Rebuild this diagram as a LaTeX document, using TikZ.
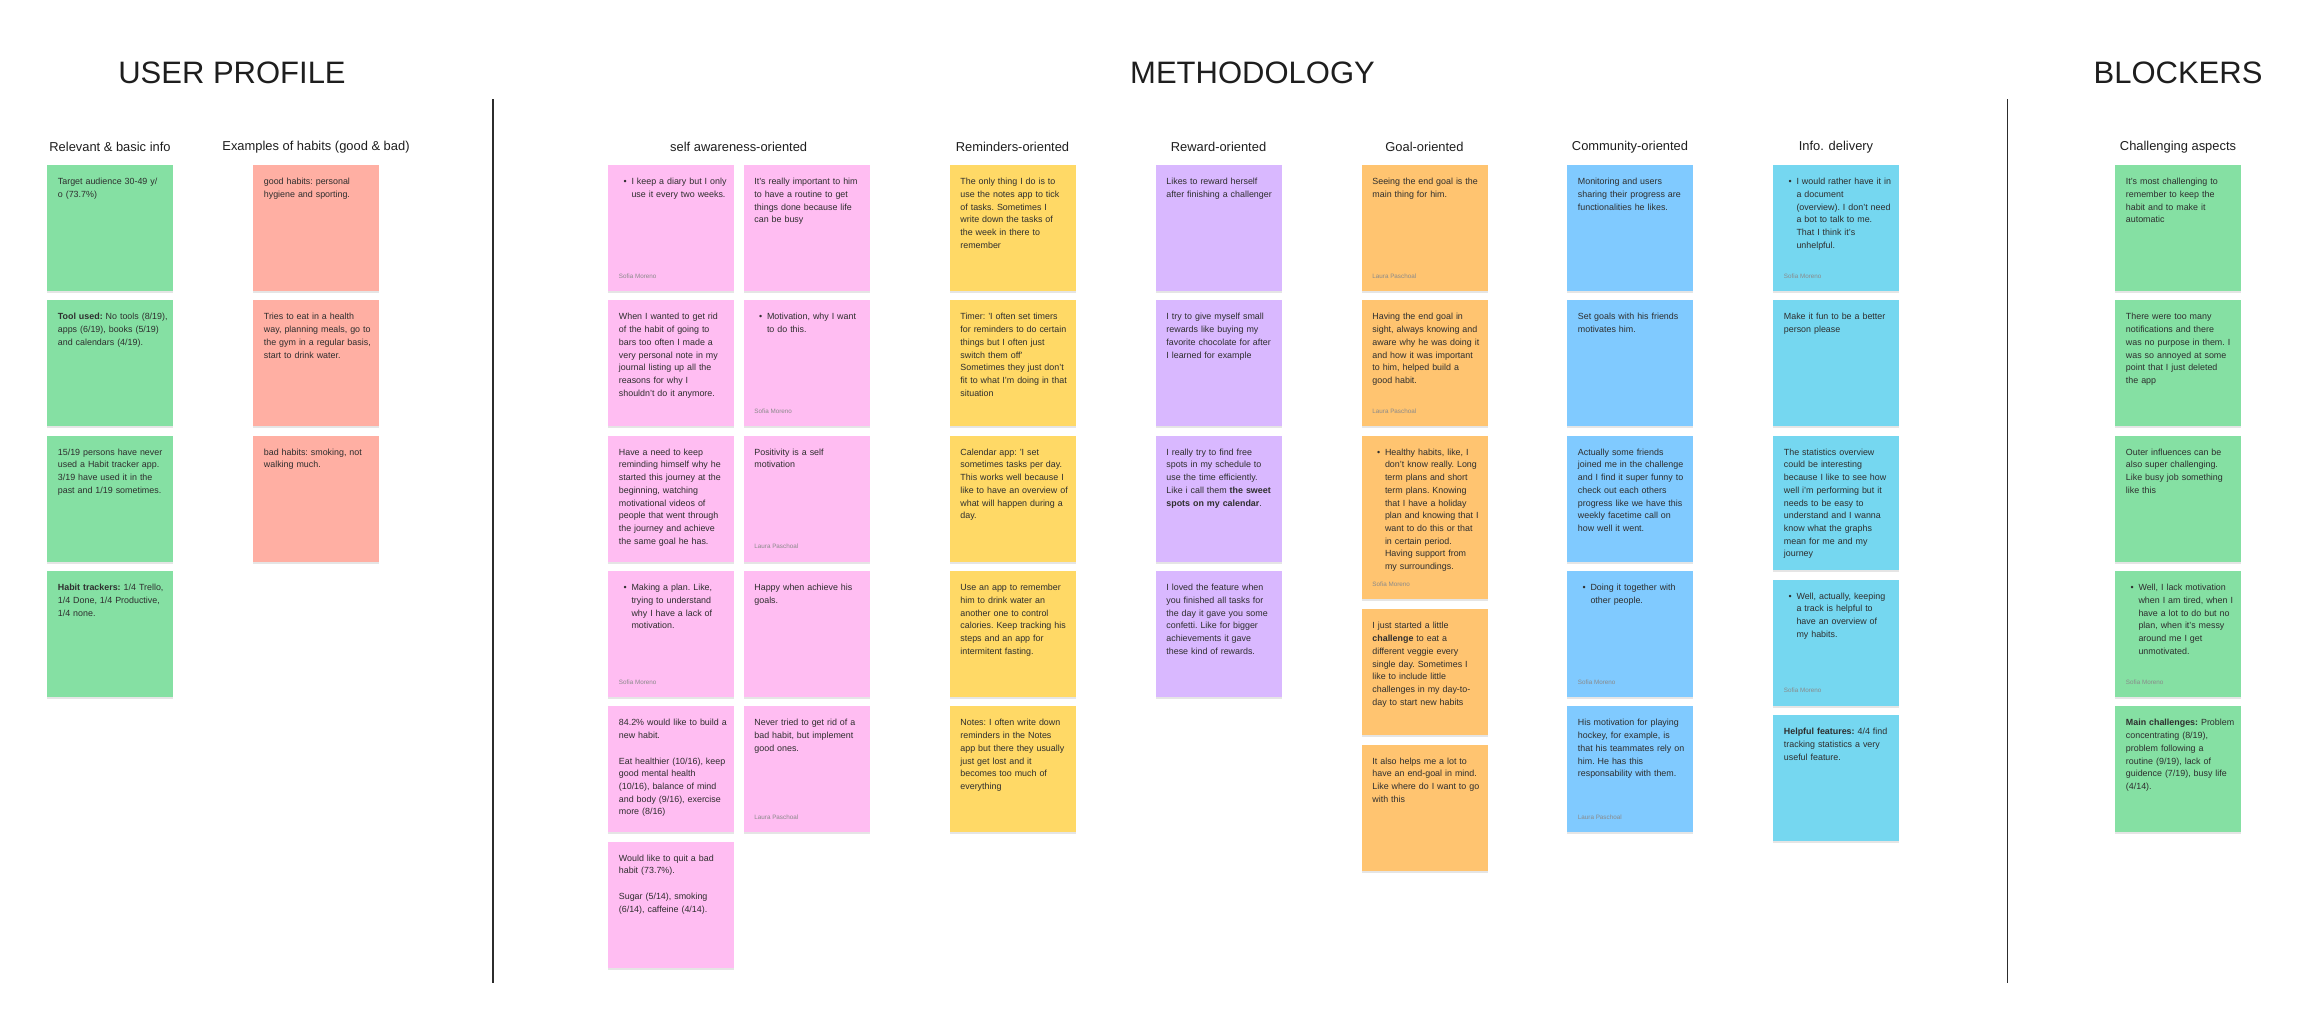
\documentclass[tikz,border=0pt]{standalone}
\usepackage{fontspec}
\setmainfont{Liberation Sans}
\usepackage{tikz}
\usetikzlibrary{shadows}

\newcommand{\notefont}{\fontsize{8.9pt}{12.7pt}\selectfont}
\newcommand{\notesetup}{\rightskip=0pt plus 1fil minus 20pt\relax\frenchspacing\hyphenpenalty=10000\relax}
\newcommand{\notebullet}{\leftskip=12.6pt\relax\leavevmode\llap{\textbullet\hspace{4.8pt}}}

\tikzset{
  sticky/.style={anchor=north west, inner xsep=10.7pt, inner ysep=0pt,
    text width=104.6pt, text height=19.7pt, text depth=106.3pt,
    font=\notefont, text=ctext, execute at begin node={\notesetup},
    drop shadow={shadow xshift=0pt, shadow yshift=-2pt, opacity=0.1, fill=black}},
  byline/.style={anchor=west, inner sep=0pt, font=\fontsize{6.3pt}{7pt}\selectfont, text=cby},
  colhead/.style={inner sep=0pt, font=\fontsize{12.9pt}{15pt}\selectfont, text=chead},
  bigtitle/.style={inner sep=0pt, font=\fontsize{31pt}{36pt}\selectfont, text=chead},
  divider/.style={draw=cdiv, line width=1.3pt}
}

\begin{document}
\begin{tikzpicture}[x=1pt,y=-1pt]
%
\useasboundingbox (0,0) rectangle (2308,1033);
%
\definecolor{ctext}{HTML}{2E2E2E}
\definecolor{chead}{HTML}{1E1E1E}
\definecolor{cby}{HTML}{8A8A8A}
\definecolor{cdiv}{HTML}{2C2C2C}
\definecolor{cgreen}{HTML}{85E0A3}
\definecolor{cred}{HTML}{FFAFA3}
\definecolor{cpink}{HTML}{FFBDF2}
\definecolor{cyellow}{HTML}{FFD966}
\definecolor{cviolet}{HTML}{D9B8FF}
\definecolor{corange}{HTML}{FFC470}
\definecolor{cblue}{HTML}{80CAFF}
\definecolor{cteal}{HTML}{75D7F0}
%
\node[bigtitle] (tUP) at (232,72.8) {USER PROFILE};
\node[bigtitle] (tME) at (1252.5,72.8) {METHODOLOGY};
\node[bigtitle] (tBL) at (2178,72.8) {BLOCKERS};
%
\coordinate (dv1t) at (493,99);
\coordinate (dv1b) at (493,983);
\coordinate (dv2t) at (2007.5,99);
\coordinate (dv2b) at (2007.5,983);
\draw[divider] (dv1t) -- (dv1b);
\draw[divider] (dv2t) -- (dv2b);
%
\node[colhead] (hup) at (110,147) {Relevant \& basic info};
\node[colhead] (hhb) at (316,147) {Examples of habits (good \& bad)};
\node[colhead] (hsa) at (738.7,147) {self awareness-oriented};
\node[colhead] (hrm) at (1012.5,147) {Reminders-oriented};
\node[colhead] (hrw) at (1218.5,147) {Reward-oriented};
\node[colhead] (hgl) at (1424.5,147) {Goal-oriented};
\node[colhead] (hcm) at (1630,147) {Community-oriented};
\node[colhead] (hid) at (1836,147) {Info. delivery};
\node[colhead] (hbk) at (2178,147) {Challenging aspects};
%
% user profile
\node[sticky, fill=cgreen] (up1) at (47,164.7) {Target audience 30-49 y/\\o (73.7\%)};
\node[sticky, fill=cgreen] (up2) at (47,300) {\textbf{Tool used:} No tools (8/19),\\apps (6/19), books (5/19)\\and calendars (4/19).};
\node[sticky, fill=cgreen] (up3) at (47,435.3) {15/19 persons have never\\used a Habit tracker app.\\3/19 have used it in the\\past and 1/19 sometimes.};
\node[sticky, fill=cgreen] (up4) at (47,570.7) {\textbf{Habit trackers:} 1/4 Trello,\\1/4 Done, 1/4 Productive,\\1/4 none.};
%
\node[sticky, fill=cred] (hb1) at (253,164.7) {good habits: personal\\hygiene and sporting.};
\node[sticky, fill=cred] (hb2) at (253,300) {Tries to eat in a health\\way, planning meals, go to\\the gym in a regular basis,\\start to drink water.};
\node[sticky, fill=cred] (hb3) at (253,435.3) {bad habits: smoking, not\\walking much.};
%
% methodology
\node[sticky, fill=cpink] (sa1) at (608,164.7) {\notebullet I keep a diary but I only\\use it every two weeks.\par};
\node[sticky, fill=cpink] (sa2) at (608,300) {When I wanted to get rid\\of the habit of going to\\bars too often I made a\\very personal note in my\\journal listing up all the\\reasons for why I\\shouldn't do it anymore.};
\node[sticky, fill=cpink] (sa3) at (608,435.3) {Have a need to keep\\reminding himself why he\\started this journey at the\\beginning, watching\\motivational videos of\\people that went through\\the journey and achieve\\the same goal he has.};
\node[sticky, fill=cpink] (sa4) at (608,570.7) {\notebullet Making a plan. Like,\\trying to understand\\why I have a lack of\\motivation.\par};
\node[sticky, fill=cpink] (sa5) at (608,706) {84.2\% would like to build a\\new habit.\\[12.7pt]Eat healthier (10/16), keep\\good mental health\\(10/16), balance of mind\\and body (9/16), exercise\\more (8/16)};
\node[sticky, fill=cpink] (sa6) at (608,841.3) {Would like to quit a bad\\habit (73.7\%).\\[12.7pt]Sugar (5/14), smoking\\(6/14), caffeine (4/14).};
%
\node[sticky, fill=cpink] (sb1) at (743.5,164.7) {It's really important to him\\to have a routine to get\\things done because life\\can be busy};
\node[sticky, fill=cpink] (sb2) at (743.5,300) {\notebullet Motivation, why I want\\to do this.\par};
\node[sticky, fill=cpink] (sb3) at (743.5,435.3) {Positivity is a self\\motivation};
\node[sticky, fill=cpink] (sb4) at (743.5,570.7) {Happy when achieve his\\goals.};
\node[sticky, fill=cpink] (sb5) at (743.5,706) {Never tried to get rid of a\\bad habit, but implement\\good ones.};
%
\node[sticky, fill=cyellow] (rm1) at (949.5,164.7) {The only thing I do is to\\use the notes app to tick\\of tasks. Sometimes I\\write down the tasks of\\the week in there to\\remember};
\node[sticky, fill=cyellow] (rm2) at (949.5,300) {Timer: 'I often set timers\\for reminders to do certain\\things but I often just\\switch them off'\\Sometimes they just don't\\fit to what I'm doing in that\\situation};
\node[sticky, fill=cyellow] (rm3) at (949.5,435.3) {Calendar app: 'I set\\sometimes tasks per day.\\This works well because I\\like to have an overview of\\what will happen during a\\day.};
\node[sticky, fill=cyellow] (rm4) at (949.5,570.7) {Use an app to remember\\him to drink water an\\another one to control\\calories. Keep tracking his\\steps and an app for\\intermitent fasting.};
\node[sticky, fill=cyellow] (rm5) at (949.5,706) {Notes: I often write down\\reminders in the Notes\\app but there they usually\\just get lost and it\\becomes too much of\\everything};
%
\node[sticky, fill=cviolet] (rw1) at (1155.5,164.7) {Likes to reward herself\\after finishing a challenger};
\node[sticky, fill=cviolet] (rw2) at (1155.5,300) {I try to give myself small\\rewards like buying my\\favorite chocolate for after\\I learned for example};
\node[sticky, fill=cviolet] (rw3) at (1155.5,435.3) {I really try to find free\\spots in my schedule to\\use the time efficiently.\\Like i call them \textbf{the sweet}\\\textbf{spots on my calendar}.};
\node[sticky, fill=cviolet] (rw4) at (1155.5,570.7) {I loved the feature when\\you finished all tasks for\\the day it gave you some\\confetti. Like for bigger\\achievements it gave\\these kind of rewards.};
%
\node[sticky, fill=corange] (gl1) at (1361.5,164.7) {Seeing the end goal is the\\main thing for him.};
\node[sticky, fill=corange] (gl2) at (1361.5,300) {Having the end goal in\\sight, always knowing and\\aware why he was doing it\\and how it was important\\to him, helped build a\\good habit.};
\node[sticky, fill=corange, text depth=144pt] (gl3) at (1361.5,435.3) {\notebullet Healthy habits, like, I\\don't know really. Long\\term plans and short\\term plans. Knowing\\that I have a holiday\\plan and knowing that I\\want to do this or that\\in certain period.\\Having support from\\my surroundings.\par};
\node[sticky, fill=corange] (gl4) at (1361.5,609) {I just started a little\\\textbf{challenge} to eat a\\different veggie every\\single day. Sometimes I\\like to include little\\challenges in my day-to-\\day to start new habits};
\node[sticky, fill=corange] (gl5) at (1361.5,744.3) {It also helps me a lot to\\have an end-goal in mind.\\Like where do I want to go\\with this};
%
\node[sticky, fill=cblue] (cm1) at (1567,164.7) {Monitoring and users\\sharing their progress are\\functionalities he likes.};
\node[sticky, fill=cblue] (cm2) at (1567,300) {Set goals with his friends\\motivates him.};
\node[sticky, fill=cblue] (cm3) at (1567,435.3) {Actually some friends\\joined me in the challenge\\and I find it super funny to\\check out each others\\progress like we have this\\weekly facetime call on\\how well it went.};
\node[sticky, fill=cblue] (cm4) at (1567,570.7) {\notebullet Doing it together with\\other people.\par};
\node[sticky, fill=cblue] (cm5) at (1567,706) {His motivation for playing\\hockey, for example, is\\that his teammates rely on\\him. He has this\\responsability with them.};
%
\node[sticky, fill=cteal] (id1) at (1773,164.7) {\notebullet I would rather have it in\\a document\\(overview). I don't need\\a bot to talk to me.\\That I think it's\\unhelpful.\par};
\node[sticky, fill=cteal] (id2) at (1773,300) {Make it fun to be a better\\person please};
\node[sticky, fill=cteal, text depth=114.3pt] (id3) at (1773,435.3) {The statistics overview\\could be interesting\\because I like to see how\\well i'm performing but it\\needs to be easy to\\understand and I wanna\\know what the graphs\\mean for me and my\\journey};
\node[sticky, fill=cteal] (id4) at (1773,579.3) {\notebullet Well, actually, keeping\\a track is helpful to\\have an overview of\\my habits.\par};
\node[sticky, fill=cteal] (id5) at (1773,715) {\textbf{Helpful features:} 4/4 find\\tracking statistics a very\\useful feature.};
%
% blockers
\node[sticky, fill=cgreen] (bk1) at (2115,164.7) {It's most challenging to\\remember to keep the\\habit and to make it\\automatic};
\node[sticky, fill=cgreen] (bk2) at (2115,300) {There were too many\\notifications and there\\was no purpose in them. I\\was so annoyed at some\\point that I just deleted\\the app};
\node[sticky, fill=cgreen] (bk3) at (2115,435.3) {Outer influences can be\\also super challenging.\\Like busy job something\\like this};
\node[sticky, fill=cgreen] (bk4) at (2115,570.7) {\notebullet Well, I lack motivation\\when I am tired, when I\\have a lot to do but no\\plan, when it's messy\\around me I get\\unmotivated.\par};
\node[sticky, fill=cgreen] (bk5) at (2115,706) {\textbf{Main challenges:} Problem\\concentrating (8/19),\\problem following a\\routine (9/19), lack of\\guidence (7/19), busy life\\(4/14).};
%
% authors
\node[byline] (sa1by) at ([xshift=10.7pt,yshift=15pt]sa1.south west) {Sofia Moreno};
\node[byline] (sa4by) at ([xshift=10.7pt,yshift=15pt]sa4.south west) {Sofia Moreno};
\node[byline] (sb2by) at ([xshift=10.7pt,yshift=15pt]sb2.south west) {Sofia Moreno};
\node[byline] (sb3by) at ([xshift=10.7pt,yshift=15pt]sb3.south west) {Laura Paschoal};
\node[byline] (sb5by) at ([xshift=10.7pt,yshift=15pt]sb5.south west) {Laura Paschoal};
\node[byline] (gl1by) at ([xshift=10.7pt,yshift=15pt]gl1.south west) {Laura Paschoal};
\node[byline] (gl2by) at ([xshift=10.7pt,yshift=15pt]gl2.south west) {Laura Paschoal};
\node[byline] (gl3by) at ([xshift=10.7pt,yshift=15pt]gl3.south west) {Sofia Moreno};
\node[byline] (cm4by) at ([xshift=10.7pt,yshift=15pt]cm4.south west) {Sofia Moreno};
\node[byline] (cm5by) at ([xshift=10.7pt,yshift=15pt]cm5.south west) {Laura Paschoal};
\node[byline] (id1by) at ([xshift=10.7pt,yshift=15pt]id1.south west) {Sofia Moreno};
\node[byline] (id4by) at ([xshift=10.7pt,yshift=15pt]id4.south west) {Sofia Moreno};
\node[byline] (bk4by) at ([xshift=10.7pt,yshift=15pt]bk4.south west) {Sofia Moreno};
%
\end{tikzpicture}
\end{document}
